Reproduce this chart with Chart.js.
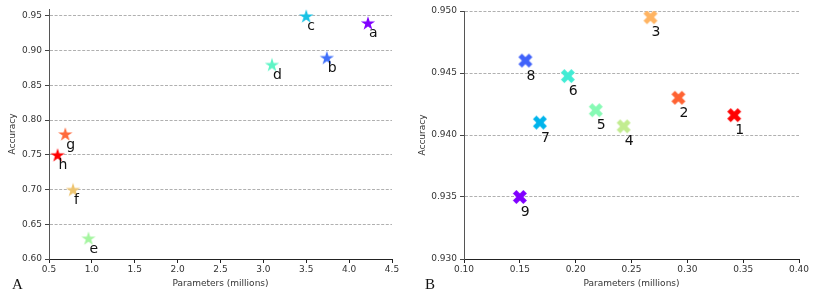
<!DOCTYPE html>
<html>
<head>
<meta charset="utf-8">
<script src="https://cdn.jsdelivr.net/npm/chart.js@4"></script>
<style>
  body { margin: 0; background: #fff; width: 817px; height: 297px; position: relative; overflow: hidden; }
  canvas { position: absolute; top: 0; }
  #chartA { left: 0; }
  #chartB { left: 410px; }
  .panel { position: absolute; top: 276px; font: 15px "Liberation Serif", "DejaVu Serif", serif; color: #111; }
</style>
</head>
<body>
<canvas id="chartA" width="410" height="297"></canvas>
<canvas id="chartB" width="407" height="297"></canvas>
<div class="panel" style="left:12px">A</div>
<div class="panel" style="left:425px">B</div>
<script>
// panel A
const namesA = ['a', 'b', 'c', 'd', 'e', 'f', 'g', 'h'];
const paramsA = [4.22, 3.74, 3.50, 3.10, 0.96, 0.78, 0.69, 0.60];
const accA = [0.94, 0.89, 0.95, 0.88, 0.63, 0.70, 0.78, 0.75];
const colorsA = ['#8000ff', '#3f6ffa', '#18c2e4', '#5ef5c6', '#a4f59f', '#edc46f', '#ff6a3c', '#ff0000'];
const xTicksA = [0.5, 1.0, 1.5, 2.0, 2.5, 3.0, 3.5, 4.0, 4.5];
const yTicksA = [0.60, 0.65, 0.70, 0.75, 0.80, 0.85, 0.90, 0.95];

// panel B
const namesB = ['1', '2', '3', '4', '5', '6', '7', '8', '9'];
const paramsB = [0.342, 0.292, 0.267, 0.243, 0.218, 0.193, 0.168, 0.155, 0.150];
const accB = [0.9416, 0.9430, 0.9495, 0.9407, 0.9420, 0.94475, 0.9410, 0.9460, 0.9350];
const colorsB = ['#ff0000', '#ff6232', '#ffb462', '#c2ec90', '#86fab4', '#40ecd4', '#00b4ec', '#4062fa', '#8000ff'];
const xTicksB = [0.10, 0.15, 0.20, 0.25, 0.30, 0.35, 0.40];
const yTicksB = [0.930, 0.935, 0.940, 0.945, 0.950];

const FONT = 'DejaVu Sans';

function starIcon(color) {
  const c = document.createElement('canvas');
  c.width = 16; c.height = 16;
  const g = c.getContext('2d');
  const R = 7.5, r = R * 0.382;
  g.translate(8, 8.7);
  g.beginPath();
  for (let i = 0; i < 10; i++) {
    const rad = i % 2 ? r : R;
    const a = -Math.PI / 2 + i * Math.PI / 5;
    g.lineTo(rad * Math.cos(a), rad * Math.sin(a));
  }
  g.closePath();
  g.fillStyle = color;
  g.fill();
  return c;
}

function crossIcon(color) {
  const c = document.createElement('canvas');
  c.width = 16; c.height = 16;
  const g = c.getContext('2d');
  const h = 7.4, t = 2.5;
  g.translate(8, 8);
  g.rotate(Math.PI / 4);
  g.beginPath();
  g.moveTo(-t, -h); g.lineTo(t, -h); g.lineTo(t, -t); g.lineTo(h, -t);
  g.lineTo(h, t); g.lineTo(t, t); g.lineTo(t, h); g.lineTo(-t, h);
  g.lineTo(-t, t); g.lineTo(-h, t); g.lineTo(-h, -t); g.lineTo(-t, -t);
  g.closePath();
  g.fillStyle = color;
  g.fill();
  return c;
}

const pointLabels = {
  id: 'pointLabels',
  afterDatasetsDraw(chart, args, opts) {
    const ctx = chart.ctx;
    const meta = chart.getDatasetMeta(0);
    ctx.save();
    ctx.font = '14px ' + FONT;
    ctx.fillStyle = '#111';
    ctx.textAlign = 'left';
    ctx.textBaseline = 'alphabetic';
    meta.data.forEach((pt, i) => {
      ctx.fillText(opts.names[i], pt.x + opts.dx, pt.y + opts.dy);
    });
    ctx.restore();
  }
};

function makeChart(id, cfg) {
  const tickFont = { family: FONT, size: 9 };
  new Chart(document.getElementById(id), {
    type: 'scatter',
    data: {
      datasets: [{
        data: cfg.xs.map((x, i) => ({ x: x, y: cfg.ys[i] })),
        pointStyle: cfg.colors.map(cfg.icon),
        pointRadius: 8,
        pointHoverRadius: 8
      }]
    },
    options: {
      responsive: false,
      animation: false,
      layout: { padding: { top: cfg.top, right: 18, left: 0, bottom: 0 } },
      plugins: {
        legend: { display: false },
        tooltip: { enabled: false },
        pointLabels: { names: cfg.names, dx: 1, dy: cfg.labelDy }
      },
      scales: {
        x: {
          type: 'linear',
          min: cfg.xTicks[0],
          max: cfg.xTicks[cfg.xTicks.length - 1],
          afterBuildTicks: (s) => { s.ticks = cfg.xTicks.map((v) => ({ value: v })); },
          afterFit: (s) => { s.height = 38; },
          ticks: {
            font: tickFont, color: '#333', padding: 1, maxRotation: 0, autoSkip: false,
            callback: (v) => v.toFixed(cfg.xDigits)
          },
          grid: { drawOnChartArea: false, drawTicks: true, tickLength: 4, tickColor: '#222' },
          border: { color: '#222', width: 1 },
          title: {
            display: true, text: 'Parameters (millions)', color: '#333',
            font: { family: FONT, size: 9 }, padding: { top: 0, bottom: 8 }
          }
        },
        y: {
          type: 'linear',
          min: cfg.yMin,
          max: cfg.yMax,
          afterBuildTicks: (s) => { s.ticks = cfg.yTicks.map((v) => ({ value: v })); },
          afterFit: (s) => { s.width = cfg.yWidth; },
          ticks: {
            font: tickFont, color: '#333', padding: 3, autoSkip: false,
            callback: (v) => v.toFixed(cfg.yDigits)
          },
          grid: {
            color: '#b0b0b0', tickBorderDash: [], tickColor: '#444',
            tickLength: 4, lineWidth: 1
          },
          border: { color: '#555', width: 1, dash: [3, 1.6] },
          title: {
            display: true, text: 'Accuracy', color: '#333',
            font: { family: FONT, size: 9 }, padding: { top: 7, bottom: 0 }
          }
        }
      }
    },
    plugins: [pointLabels]
  });
}

makeChart('chartA', {
  xs: paramsA, ys: accA, names: namesA, colors: colorsA, icon: starIcon,
  xTicks: xTicksA, yTicks: yTicksA, yMin: 0.60, yMax: 0.96,
  xDigits: 1, yDigits: 2, yWidth: 49, top: 9, labelDy: 14.5
});

makeChart('chartB', {
  xs: paramsB, ys: accB, names: namesB, colors: colorsB, icon: crossIcon,
  xTicks: xTicksB, yTicks: yTicksB, yMin: 0.930, yMax: 0.950,
  xDigits: 2, yDigits: 3, yWidth: 54, top: 11, labelDy: 19
});
</script>
</body>
</html>
